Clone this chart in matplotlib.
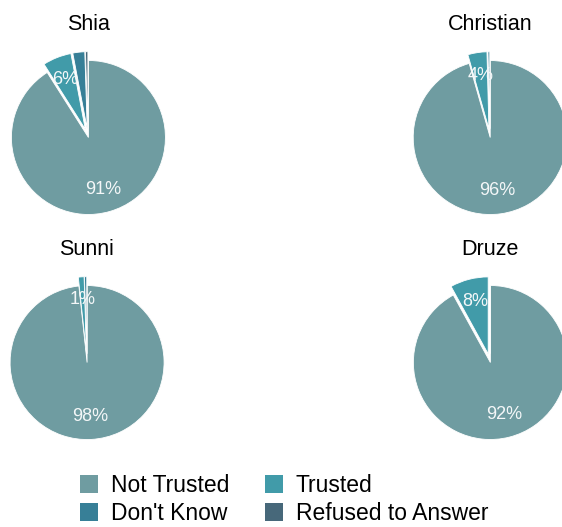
import matplotlib.pyplot as plt
from matplotlib.patches import Patch

plt.rcParams["font.family"] = ["Liberation Sans", "DejaVu Sans"]

categories = ["Not Trusted", "Trusted", "Don't Know", "Refused to Answer"]
colors = ["#6f9ca1", "#419ba9", "#377f97", "#47687a"]

groups = ["Shia", "Christian", "Sunni", "Druze"]
shia = [91.0, 6.0, 2.5, 0.5]
christian = [95.6, 4.0, 0.4, 0.0]
sunni = [98.3, 1.2, 0.5, 0.0]
druze = [92.0, 8.0, 0.0, 0.0]
values = [shia, christian, sunni, druze]

# pie centres in pixels (x, y from top), radius in pixels
W, H = 562, 527
centres = [(88, 136), (490, 136), (87, 361), (490, 361)]
R = 77
lim = 1.2

fig = plt.figure(figsize=(W / 100, H / 100), dpi=100)
fig.patch.set_facecolor("white")

for name, vals, (cx, cy) in zip(groups, values, centres):
    size = 2 * lim * R
    ax = fig.add_axes([(cx - size / 2) / W, 1 - (cy + size / 2) / H, size / W, size / H])
    wedges, texts, autotexts = ax.pie(
        vals, colors=colors, startangle=90, counterclock=False,
        explode=[0.02, 0.095, 0.095, 0.095],
        autopct="%.0f%%", pctdistance=0.7,
        wedgeprops=dict(edgecolor="white", linewidth=0.6),
        textprops=dict(color="#f4f7f8", fontsize=13))
    for i, t in enumerate(autotexts):
        if i > 1 or vals[i] == 0:
            t.set_text("")
    for w in wedges:
        w.set_clip_on(False)
    ax.set_xlim(-lim, lim)
    ax.set_ylim(-lim, lim)
    ax.set_aspect("equal")
    ax.axis("off")
    ax.text(0, 1.445, name, ha="center", va="center", fontsize=15.5, color="black", clip_on=False)

order = [0, 2, 1, 3]
handles = [Patch(facecolor=colors[i], edgecolor="none", label=categories[i]) for i in order]
fig.legend(handles=handles, loc="upper left", bbox_to_anchor=(80 / W, 1 - 474 / H), ncol=2,
           frameon=False, fontsize=16.5, handlelength=0.8, handleheight=0.8,
           handletextpad=0.55, columnspacing=1.55, labelspacing=0.22, borderpad=0, borderaxespad=0)

fig.savefig("out.png", dpi=100, facecolor="white")
